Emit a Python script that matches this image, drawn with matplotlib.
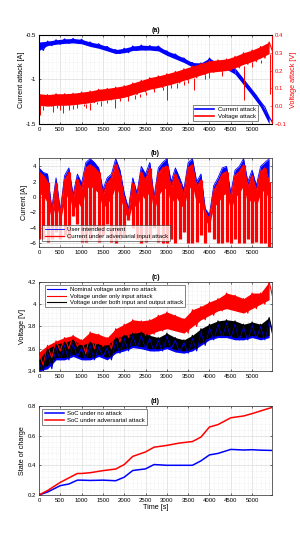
import numpy as np
import matplotlib
matplotlib.use("Agg")
import matplotlib.pyplot as plt
from matplotlib.ticker import MultipleLocator, AutoMinorLocator

plt.rcParams['font.family'] = ['Liberation Sans', 'DejaVu Sans']

# ---- data ----
# (a) sampled every 200 s, high / low of the noisy band
t_a = np.arange(0, 5401, 200)
cur_att_hi = [-0.58, -0.57, -0.555, -0.545, -0.54, -0.55, -0.58, -0.60, -0.63, -0.665, -0.65, -0.625, -0.615, -0.62,
              -0.625, -0.68, -0.715, -0.76, -0.81, -0.815, -0.76, -0.82, -0.835, -0.88, -1.00, -1.12, -1.25, -1.42]
cur_att_lo = [-0.675, -0.62, -0.605, -0.595, -0.59, -0.60, -0.63, -0.65, -0.68, -0.71, -0.70, -0.675, -0.67, -0.67,
              -0.68, -0.73, -0.77, -0.81, -0.86, -0.87, -0.84, -0.87, -0.885, -0.94, -1.06, -1.18, -1.31, -1.50]
volt_att_hi = [0.07, 0.065, 0.07, 0.07, 0.073, 0.079, 0.085, 0.095, 0.10, 0.107, 0.115, 0.13, 0.145, 0.16,
               0.17, 0.182, 0.195, 0.21, 0.225, 0.24, 0.255, 0.26, 0.265, 0.28, 0.30, 0.315, 0.335, 0.36]
volt_att_lo = [0.005, 0.0, 0.005, 0.005, 0.008, 0.014, 0.02, 0.03, 0.035, 0.042, 0.05, 0.065, 0.08, 0.095,
               0.105, 0.117, 0.13, 0.145, 0.16, 0.175, 0.19, 0.195, 0.2, 0.215, 0.235, 0.25, 0.27, 0.295]
# downward spikes of the voltage attack
spike_t = [30, 100, 250, 330, 420, 500, 570, 700, 800, 900, 1050, 1100, 1200, 1350, 1450, 1600, 1790, 1900,
           2100, 2250, 2370, 2500, 2700, 2900, 3000, 3100, 3250, 3400, 3500, 3630, 3900, 4000, 4300, 4600,
           4800, 5000, 5200, 5420]
spike_lo = [-0.05, -0.02, 0.0, -0.03, -0.01, -0.02, -0.04, -0.02, -0.015, -0.01, 0.0, -0.01, -0.02, 0.01, 0.0,
            0.02, -0.01, 0.03, 0.03, 0.04, 0.05, 0.06, 0.08, 0.09, 0.035, 0.1, 0.1, 0.12, 0.13, 0.09, 0.15, 0.16,
            0.17, 0.18, 0.035, 0.22, 0.24, 0.07]
spike_top = [0.005, 0.0, 0.0, 0.005, 0.005, 0.005, 0.005, 0.005, 0.008, 0.01, 0.014, 0.015, 0.02, 0.025, 0.03,
             0.035, 0.04, 0.045, 0.05, 0.06, 0.07, 0.08, 0.1, 0.11, 0.117, 0.12, 0.13, 0.14, 0.145, 0.16, 0.175,
             0.19, 0.195, 0.215, 0.225, 0.25, 0.26, 0.295]

# (b) sampled every 100 s
t_b = np.arange(0, 5401, 100)
user_cur_top = [3.8, 3.2, 3.0, -1.5, 2.5, -1.8, 2.8, 3.8, 0.3, 3.0, 1.8, 4.5, 5.0, 4.5, 3.8, 1.0, 2.5, 3.0, 5.0,
                3.5, 0.5, -1.5, 2.5, 0.5, 4.0, 3.0, 4.5, 0.0, 3.8, 4.5, 5.0, 2.0, 3.8, 2.5, 1.0, 4.5, 5.0, 2.0,
                3.0, -1.5, -2.3, 1.5, 2.5, 3.8, 4.0, 0.5, 3.5, 4.0, 5.0, 2.0, 3.5, 1.5, 4.0, 4.5, 5.0]
att_cur_top = [3.2, 2.8, 2.0, -2.0, 1.8, -2.2, 2.2, 3.2, -0.2, 2.3, 1.0, 3.8, 4.2, 3.8, 3.2, 0.3, 1.8, 2.5, 4.3,
               2.8, -0.2, -2.0, 1.8, 0.0, 3.2, 2.2, 3.8, -0.5, 3.0, 3.8, 4.0, 1.2, 3.0, 1.8, 0.3, 3.8, 4.2, 1.3,
               2.2, -2.0, -2.8, 0.8, 1.8, 3.0, 3.3, -0.2, 2.8, 3.3, 4.2, 1.3, 2.8, 0.8, 3.3, 3.8, 2.0]
att_cur_mid = [0.5, 0.2, -0.8, -3.0, -0.8, -3.2, -0.5, 0.5, -2.0, -0.5, -1.5, 1.0, 1.5, 1.0, 0.5, -1.5, -0.8,
               -0.2, 1.5, 0.0, -1.8, -3.0, -0.8, -1.5, 0.5, -0.5, 1.0, -2.0, 0.2, 1.0, 1.2, -1.0, 0.2, -0.8, -1.5,
               1.0, 1.5, -1.0, -0.5, -3.0, -3.8, -1.2, -0.8, 0.2, 0.5, -1.8, 0.0, 0.5, 1.5, -1.0, 0.0, -1.2, 0.5,
               1.0, -0.5]
att_cur_bot = [-5.5, -5.5, -5.8, -5.5, -4.5, -5.5, -5.0, -5.5, -2.5, -3.5, -5.8, -5.8, -5.5, -4.0, -5.8, -5.0,
               -3.5, -5.8, -6.0, -5.5, -5.0, -3.0, -4.0, -5.5, -6.0, -5.8, -5.5, -4.0, -5.8, -6.0, -6.0, -5.5,
               -6.0, -5.5, -4.5, -6.0, -6.0, -5.8, -5.0, -6.0, -4.5, -5.5, -6.0, -6.0, -5.8, -6.0, -5.5, -6.0,
               -6.0, -5.5, -6.0, -5.8, -6.0, -6.0, -6.5]

# (c) sampled every 200 s
t_c = np.arange(0, 5401, 200)
v_nom_hi = [3.48, 3.58, 3.62, 3.64, 3.66, 3.61, 3.64, 3.62, 3.61, 3.68, 3.70, 3.72, 3.73, 3.70,
            3.68, 3.72, 3.68, 3.66, 3.70, 3.76, 3.80, 3.83, 3.84, 3.83, 3.80, 3.82, 3.80, 3.86]
v_nom_lo = [3.40, 3.42, 3.50, 3.50, 3.53, 3.50, 3.50, 3.53, 3.50, 3.56, 3.58, 3.61, 3.60, 3.58,
            3.58, 3.60, 3.57, 3.56, 3.58, 3.63, 3.68, 3.70, 3.70, 3.68, 3.68, 3.70, 3.68, 3.70]
v_in_hi = [3.57, 3.63, 3.67, 3.70, 3.72, 3.68, 3.75, 3.73, 3.70, 3.78, 3.82, 3.86, 3.85, 3.86,
           3.90, 3.93, 3.90, 3.87, 3.95, 3.98, 4.02, 4.05, 4.10, 4.08, 4.05, 4.10, 4.10, 4.20]
v_in_lo = [3.45, 3.52, 3.58, 3.60, 3.62, 3.55, 3.60, 3.62, 3.60, 3.66, 3.70, 3.74, 3.72, 3.73,
           3.76, 3.78, 3.76, 3.74, 3.80, 3.86, 3.90, 3.94, 3.96, 3.94, 3.92, 3.96, 4.00, 4.04]
v_both_hi = [3.50, 3.60, 3.64, 3.66, 3.68, 3.63, 3.66, 3.64, 3.63, 3.70, 3.72, 3.74, 3.75, 3.72,
             3.70, 3.74, 3.70, 3.68, 3.72, 3.78, 3.82, 3.85, 3.86, 3.85, 3.82, 3.84, 3.82, 3.88]
v_both_lo = [3.41, 3.45, 3.52, 3.52, 3.55, 3.52, 3.52, 3.55, 3.52, 3.58, 3.60, 3.63, 3.62, 3.60,
             3.60, 3.62, 3.59, 3.58, 3.60, 3.65, 3.70, 3.72, 3.72, 3.70, 3.70, 3.72, 3.70, 3.72]

# (d)
t_d = [0, 200, 500, 700, 900, 1000, 1200, 1500, 1800, 2000, 2200, 2500, 2700, 3000, 3300, 3600,
       3800, 4000, 4200, 4500, 4800, 5000, 5200, 5470]
soc_nom = [0.20, 0.22, 0.263, 0.274, 0.30, 0.30, 0.298, 0.30, 0.296, 0.32, 0.365, 0.376, 0.405, 0.40,
           0.40, 0.40, 0.43, 0.47, 0.48, 0.507, 0.503, 0.505, 0.502, 0.50]
soc_att = [0.20, 0.23, 0.285, 0.315, 0.345, 0.345, 0.35, 0.364, 0.375, 0.405, 0.46, 0.49, 0.522, 0.534,
           0.55, 0.56, 0.59, 0.658, 0.674, 0.72, 0.732, 0.748, 0.766, 0.79]

XMAX = 5470
TICK_FS = 4.3
LABEL_FS = 5.2
LEG_FS = 4.3


def zigzag(t, hi, lo, dt):
    # alternate band high / low to draw the noisy trace
    x = np.empty(2 * len(t))
    y = np.empty(2 * len(t))
    x[0::2] = t
    x[1::2] = np.asarray(t) + dt
    y[0::2] = hi
    y[1::2] = lo
    return x, y


def style(ax):
    ax.set_xlim(0, XMAX)
    ax.xaxis.set_major_locator(MultipleLocator(500))
    ax.xaxis.set_minor_locator(AutoMinorLocator(5))
    ax.yaxis.set_minor_locator(AutoMinorLocator(5))
    ax.grid(True, which='major', color='#dcdcdc', lw=0.5)
    ax.grid(True, which='minor', color='#e4e4e4', lw=0.4, ls=':')
    ax.tick_params(which='both', direction='in', top=True, right=True, length=1.5, width=0.4, pad=2,
                   labelsize=TICK_FS)
    ax.tick_params(which='minor', length=0)
    for s in ax.spines.values():
        s.set_linewidth(0.5)
        s.set_color('#262626')
    ax.set_axisbelow(True)


def legend(ax, loc, bbox, handles=None, labels=None):
    kw = dict(loc=loc, bbox_to_anchor=bbox, fontsize=LEG_FS, frameon=True, fancybox=False,
              handlelength=3.2, borderpad=0.35, labelspacing=0.2, handletextpad=0.6, borderaxespad=0)
    if handles is not None:
        lg = ax.legend(handles, labels, **kw)
    else:
        lg = ax.legend(**kw)
    lg.get_frame().set_edgecolor('#262626')
    lg.get_frame().set_linewidth(0.5)
    return lg


fig = plt.figure(figsize=(3.0, 5.5), dpi=100)
W = 0.777
L = 0.13
H = 0.162

# (a)
ax = fig.add_axes([L, 1 - 124 / 550, W, H])
style(ax)
ax2 = ax.twinx()
x, y = zigzag(t_a, cur_att_hi, cur_att_lo, 100)
ax.fill_between(t_a, cur_att_lo, cur_att_hi, color='blue', lw=0)
ax.plot(x, y, color='blue', lw=0.8)
ax.set_ylim(-1.5, -0.5)
ax.set_yticks([-1.5, -1, -0.5])
ax.set_yticklabels(['-1.5', '-1', '-0.5'])
ax.set_ylabel('Current attack [A]', fontsize=LABEL_FS, labelpad=1)
x, y = zigzag(t_a, volt_att_hi, volt_att_lo, 100)
ax2.fill_between(t_a, volt_att_lo, volt_att_hi, color='red', lw=0)
ax2.plot(x, y, color='red', lw=0.8)
ax2.vlines(spike_t, spike_lo, spike_top, color='red', lw=0.7)
ax2.set_ylim(-0.1, 0.4)
ax2.set_yticks([-0.1, 0, 0.1, 0.2, 0.3, 0.4])
ax2.tick_params(direction='in', length=1.5, width=0.4, pad=2, labelsize=TICK_FS, colors='red')
ax2.spines['right'].set_color('red')
ax2.set_ylabel('Voltage attack [V]', fontsize=LABEL_FS, color='red', labelpad=2)
ax.set_title('(a)', fontsize=5, fontweight='bold', pad=2)
h1, = ax.plot([], [], color='blue', lw=1.2)
h2, = ax.plot([], [], color='red', lw=1.2)
legend(ax2, 'lower right', (0.94, 0.035), [h1, h2], ['Current attack', 'Voltage attack'])

# (b)
ax = fig.add_axes([L, 1 - 247 / 550, W, H])
style(ax)
ax.fill_between(t_b, att_cur_top, user_cur_top, color='blue', lw=0)
ax.plot(t_b, user_cur_top, color='blue', lw=0.6, label='User intended current')
ax.fill_between(t_b, att_cur_mid, att_cur_top, color='red', lw=0)
ax.vlines(t_b, att_cur_bot, att_cur_top, color='red', lw=2.3)
ax.plot(t_b, att_cur_top, color='red', lw=0.9, label='Current under adversarial input attack')
ax.set_ylim(-6.5, 5.1)
ax.set_yticks([-6, -4, -2, 0, 2, 4])
ax.set_ylabel('Current [A]', fontsize=LABEL_FS, labelpad=1)
ax.set_title('(b)', fontsize=5, fontweight='bold', pad=2)
legend(ax, 'lower left', (0.015, 0.07))

# (c)
ax = fig.add_axes([L, 1 - 371 / 550, W, H])
style(ax)
for hi, lo, c, lab in [(v_nom_hi, v_nom_lo, 'blue', 'Nominal voltage under no attack'),
                       (v_in_hi, v_in_lo, 'red', 'Voltage under only input attack'),
                       (v_both_hi, v_both_lo, 'black', 'Voltage under both input and output attack')]:
    ax.fill_between(t_c, lo, hi, color=c, lw=0)
    x, y = zigzag(t_c, hi, lo, 100)
    ax.plot(x, y, color=c, lw=0.8, label=lab)
ax.set_ylim(3.4, 4.2)
ax.set_yticks([3.4, 3.6, 3.8, 4.0, 4.2])
ax.set_yticklabels(['3.4', '3.6', '3.8', '4', '4.2'])
ax.set_ylabel('Voltage [V]', fontsize=LABEL_FS, labelpad=1)
ax.set_title('(c)', fontsize=5, fontweight='bold', pad=2)
legend(ax, 'upper left', (0.025, 0.965))

# (d)
ax = fig.add_axes([L, 1 - 495 / 550, W, H])
style(ax)
ax.plot(t_d, soc_nom, color='blue', lw=1.1, label='SoC under no attack')
ax.plot(t_d, soc_att, color='red', lw=1.1, label='SoC under adversarial attack')
ax.set_ylim(0.2, 0.8)
ax.set_yticks([0.2, 0.4, 0.6, 0.8])
ax.set_ylabel('State of charge', fontsize=LABEL_FS, labelpad=1)
ax.set_xlabel('Time [s]', fontsize=LABEL_FS, labelpad=1)
ax.set_title('(d)', fontsize=5, fontweight='bold', pad=2)
legend(ax, 'upper left', (0.015, 0.965))

fig.savefig('out.png', dpi=100)
